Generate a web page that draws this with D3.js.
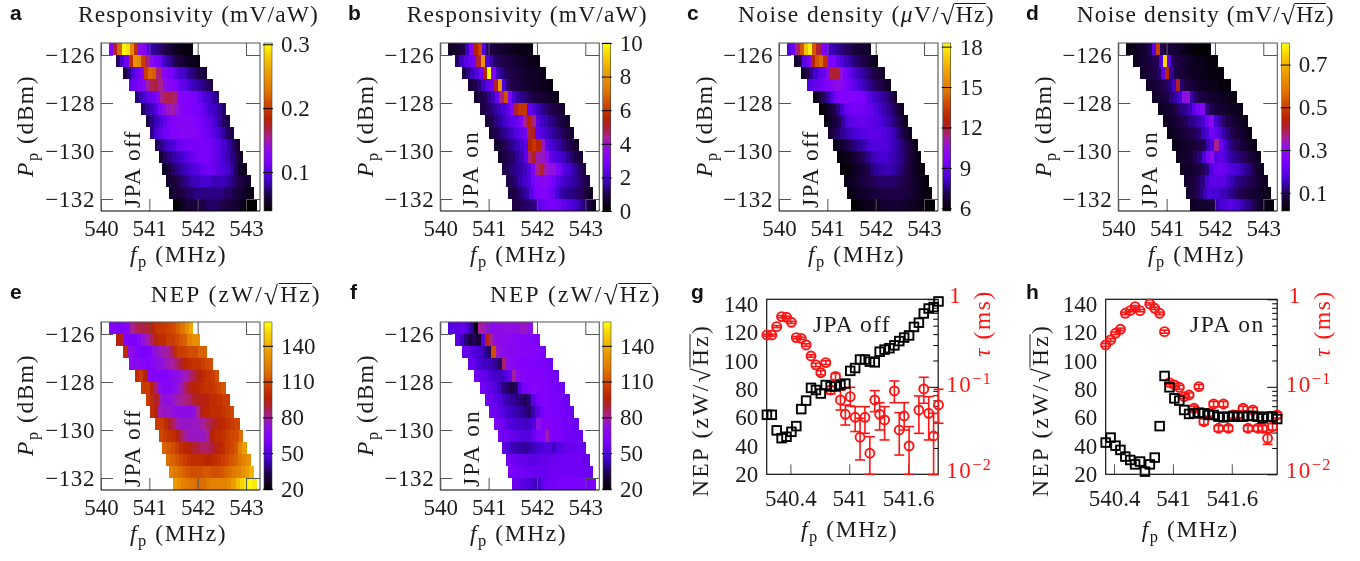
<!DOCTYPE html>
<html><head><meta charset="utf-8">
<script src="https://cdn.jsdelivr.net/npm/d3@7"></script>
<style>html,body{margin:0;padding:0;background:#fff;overflow:hidden}svg{display:block;filter:blur(.35px)}</style>
</head><body><svg id="c" width="1360" height="561"></svg>
<script>
const rowPower=[-125.75,-126.25,-126.75,-127.25,-127.75,-128.25,-128.75,-129.25,-129.75,-130.25,-130.75,-131.25,-131.75,-132.25];
const rowStart=[540.165,540.31,540.45,540.58,540.70,540.83,540.93,541.01,541.12,541.20,541.27,541.35,541.41,541.48];
const rowSpan=1.74;
const respOff=[
[.12,.17,.22,.30,.29,.24,.19,.13,.12,.09,.08,.075,.07,.065,.06,.055,.05,.045,.045,.045],
[.07,.09,.11,.19,.25,.24,.2,.16,.13,.115,.11,.09,.08,.07,.065,.06,.055,.05,.05,.045],
[.065,.075,.095,.11,.125,.2,.22,.215,.16,.13,.12,.115,.105,.09,.09,.08,.075,.07,.065,.06],
[.105,.11,.12,.125,.15,.165,.17,.155,.135,.125,.12,.115,.105,.1,.09,.085,.08,.075,.07,.065],
[.075,.085,.095,.105,.11,.125,.155,.165,.165,.16,.125,.12,.12,.115,.115,.105,.095,.09,.08,.075],
[.07,.08,.085,.095,.115,.13,.145,.15,.14,.125,.12,.12,.115,.115,.11,.1,.09,.085,.08,.07],
[.065,.075,.085,.095,.105,.115,.12,.125,.125,.125,.125,.12,.115,.11,.105,.1,.09,.08,.07,.065],
[.075,.09,.1,.11,.115,.12,.12,.125,.125,.125,.125,.12,.115,.11,.105,.095,.09,.08,.07,.065],
[.07,.075,.085,.09,.095,.105,.11,.115,.115,.115,.115,.115,.115,.11,.105,.1,.09,.08,.07,.06],
[.06,.07,.075,.08,.085,.09,.095,.105,.11,.115,.115,.115,.11,.105,.1,.09,.085,.075,.065,.055],
[.055,.06,.07,.075,.08,.085,.09,.095,.1,.105,.11,.11,.105,.1,.095,.09,.08,.07,.055,.05],
[.055,.06,.065,.07,.075,.08,.085,.085,.09,.09,.09,.085,.085,.085,.08,.075,.07,.065,.06,.055],
[.055,.06,.06,.065,.07,.07,.075,.075,.075,.075,.075,.075,.075,.07,.07,.065,.06,.055,.05,.045],
[.04,.045,.055,.06,.06,.06,.065,.065,.07,.07,.07,.065,.065,.06,.06,.055,.05,.045,.04,.04]];
const respOn=[
[.5,.6,.8,1,1.8,3,5.5,6.2,2.2,1.2,.9,.8,.7,.6,.5,.4,.3,.3,.3,.3],
[1.2,1.8,2.2,2.5,2.8,5,8,2.2,1.6,1.2,1.1,1,.9,.8,.7,.6,.5,.4,.4,.3],
[1,1.3,1.8,2.2,2.8,5.5,10,3,1.8,1.4,1.2,1,.9,.8,.7,.6,.5,.5,.4,.3],
[.8,1,1.3,1.8,2.2,2.7,5,8,2,1.3,1,.9,.8,.7,.6,.5,.5,.4,.4,.3],
[.7,.9,1.1,1.4,1.8,2.6,4.5,6.5,3,2,1.6,1.4,1.2,1,.9,.8,.7,.6,.5,.4],
[.9,1.1,1.3,1.5,1.8,2,2.4,3,5,6,6,2.6,2.2,1.8,1.5,1.3,1.1,1,.8,.7],
[.8,1,1.3,1.5,1.8,2.1,2.4,2.6,3,4.5,5.5,4.5,2.2,1.9,1.7,1.4,1.2,1,.8,.7],
[.8,1,1.2,1.4,1.6,1.8,2.2,2.5,2.7,5,5.2,2.5,2.2,1.9,1.7,1.5,1.3,1.1,.9,.8],
[.7,.9,1.1,1.3,1.5,1.7,2,2.3,5.5,6,5.5,4,2.3,2,1.8,1.6,1.3,1.1,.9,.7],
[.7,.9,1.1,1.2,1.5,1.7,2.4,4.5,5.2,4.2,4,3.5,2.4,2.2,2,1.8,1.5,1.2,1,.8],
[1,1.1,1.3,1.4,1.6,1.8,2.2,3,4.5,5,4.2,3.8,3.8,3,2.3,2,1.8,1.5,1.2,1],
[1,1.1,1.3,1.6,1.9,2.2,2.8,3.2,3.3,3.3,3,2.8,2.3,2,1.8,1.6,1.5,1.3,1.1,1],
[.9,1,1.2,1.4,1.6,2.3,3,3,3.2,3,2.6,2,1.6,1.5,1.4,1.3,1.2,1.1,.9,.5],
[1,1,1.1,1.2,1.3,1.4,2.4,2.6,2.8,2.9,2.8,2.7,2.4,2.2,2,1.8,1.5,1.2,.8,.6]];
const noiseOff=[
[8.5,9,11.5,14,17,18,14,12,9.5,9.2,8,7.8,7.5,7.4,7.2,7,6.8,6.7,6.6,6.6],
[6.5,7,8.8,9.3,12.5,14,14.5,13,9.5,9.5,8.8,8.5,8,7.6,7.4,7.2,7,6.8,6.4,6.3],
[6.5,7,7.6,8.2,8.7,9,10,12,12,10.5,9.5,9,8.5,8,7.8,7.6,7.3,7,6.8,6.5],
[8.5,8.8,9,9.2,9.5,9.7,10,10.2,9.8,9.5,9,8.8,8.3,8,7.7,7.5,7.2,7,6.7,6.4],
[6.2,6.6,7.2,7.7,8.5,9.3,9.6,9.6,9.7,9.6,9.5,9.5,9.3,8.6,8.2,8,7.8,7.5,7.1,6.7],
[6,6.2,6.6,7,7.5,8.2,9,9.3,9.3,9.2,9.2,9.1,8.9,8.5,8.2,7.9,7.6,7.3,6.9,6.5],
[6.1,6.4,6.8,7.2,7.8,8.4,8.7,8.9,8.9,9,8.9,8.8,8.6,8.3,8.1,7.8,7.5,7.2,6.8,6.4],
[6.7,7,7.3,7.6,7.9,8.1,8.3,8.4,8.6,8.7,8.8,8.8,8.7,8.5,8.2,7.9,7.6,7.2,6.8,6.4],
[6.2,6.5,6.8,7,7.3,7.5,7.7,8,8.3,8.4,8.5,8.5,8.4,8.2,8,7.8,7.4,7,6.7,6.3],
[6,6.1,6.3,6.5,6.8,7,7.2,7.6,7.9,8.1,8.2,8.2,8.1,7.9,7.7,7.5,7.2,6.8,6.4,6.1],
[5.9,6,6.2,6.4,6.6,6.8,7,7.4,7.6,7.8,7.9,7.9,7.8,7.6,7.4,7.1,6.8,6.5,6.2,6],
[6.2,6.4,6.5,6.7,6.9,7,7.1,7.2,7.3,7.3,7.3,7.3,7.2,7.1,7,6.8,6.6,6.4,6.2,6],
[6,6.2,6.4,6.5,6.6,6.7,6.8,6.9,7,7,7,7,7,6.9,6.8,6.7,6.5,6.3,6.1,6],
[5.8,5.9,6.1,6.2,6.3,6.4,6.5,6.6,6.7,6.7,6.7,6.7,6.6,6.5,6.4,6.3,6.2,6.1,6,5.9]];
const noiseOn=[
[.03,.04,.05,.06,.07,.1,.2,.5,.1,.08,.08,.07,.06,.05,.04,.03,.02,.02,.02,.02],
[.05,.06,.07,.08,.09,.1,.18,.75,.2,.1,.09,.08,.07,.06,.05,.04,.04,.03,.03,.03],
[.06,.07,.08,.09,.11,.2,.45,.13,.09,.08,.07,.06,.05,.05,.04,.04,.03,.03,.03,.03],
[.06,.07,.08,.09,.1,.12,.16,.42,.11,.09,.08,.07,.06,.05,.05,.04,.04,.03,.03,.03],
[.06,.07,.08,.09,.12,.14,.17,.3,.32,.14,.11,.09,.08,.07,.06,.06,.05,.05,.04,.03],
[.05,.06,.07,.08,.1,.12,.13,.15,.2,.23,.27,.12,.1,.08,.07,.07,.06,.05,.05,.04],
[.05,.06,.07,.08,.09,.1,.12,.13,.15,.17,.23,.28,.17,.14,.11,.09,.07,.06,.05,.04],
[.04,.05,.06,.07,.08,.09,.1,.12,.15,.17,.23,.22,.18,.14,.12,.1,.08,.07,.05,.04],
[.04,.05,.06,.06,.07,.08,.09,.1,.15,.18,.36,.22,.17,.13,.11,.1,.08,.07,.05,.04],
[.05,.06,.07,.08,.1,.12,.17,.24,.3,.2,.2,.18,.15,.13,.12,.11,.1,.08,.07,.05],
[.05,.06,.06,.07,.08,.1,.12,.18,.22,.23,.22,.2,.18,.17,.15,.13,.12,.09,.07,.05],
[.06,.07,.08,.1,.12,.17,.2,.2,.2,.2,.17,.15,.13,.12,.11,.1,.09,.08,.06,.05],
[.07,.08,.1,.12,.15,.18,.17,.17,.15,.15,.13,.11,.1,.09,.08,.07,.07,.06,.05,.04],
[.05,.06,.06,.07,.07,.08,.15,.17,.18,.2,.18,.17,.15,.13,.11,.09,.07,.05,.04,.03]];
const nepOff=[
[62,62,60,62,65,80,85,87,88,92,98,102,103,105,107,110,115,120,130,138],
[95,92,62,60,60,65,73,78,85,95,100,100,105,105,108,112,115,125,130,130],
[100,72,68,62,60,60,62,70,75,78,80,85,100,105,105,108,110,110,115,115],
[68,68,66,64,62,65,68,72,75,78,80,85,90,98,100,102,102,105,108,110],
[100,105,95,66,63,62,62,62,66,70,72,76,78,85,90,95,100,102,105,110],
[105,105,95,85,70,65,65,68,72,78,85,92,95,98,100,102,102,105,108,112],
[105,100,90,75,72,72,75,78,80,82,85,90,92,95,95,100,100,102,105,105],
[100,95,78,75,75,72,70,70,70,70,72,80,92,98,100,100,100,102,105,108],
[105,105,100,90,85,78,75,75,75,76,78,80,85,88,92,98,100,102,105,108],
[108,105,102,100,95,85,80,76,76,75,75,80,95,100,100,102,105,108,110,118],
[115,112,110,105,100,98,95,90,88,85,85,88,92,98,100,105,108,112,125,135],
[118,115,112,108,105,102,100,100,100,98,98,100,102,105,108,112,115,120,125,130],
[125,120,118,115,112,110,110,110,112,112,110,110,112,115,118,122,125,130,135,142],
[135,130,125,122,120,118,118,118,122,125,125,125,125,128,135,145,150,155,158,155]];
const nepOn=[
[50,52,53,55,48,40,22,80,78,72,68,70,70,72,72,70,72,75,75,72],
[52,45,38,32,35,30,50,95,80,72,70,68,68,66,66,64,64,64,62,62],
[55,55,50,48,45,40,35,110,75,70,68,66,66,65,65,65,64,64,62,60],
[55,52,48,45,45,42,40,35,85,70,66,64,62,62,62,62,60,60,60,58],
[58,55,52,50,46,45,45,48,55,80,68,65,63,62,62,62,62,60,60,58],
[58,55,52,50,45,38,36,32,35,50,60,62,64,64,62,62,60,60,58,58],
[58,56,52,50,45,42,40,38,36,34,38,52,60,62,62,60,60,60,58,56],
[58,56,52,50,46,44,42,40,38,36,42,50,58,62,62,60,60,58,58,56],
[60,58,55,50,48,46,46,44,46,50,70,62,64,62,60,60,58,58,58,56],
[60,58,56,54,52,50,50,50,56,60,62,78,62,60,60,60,58,58,56,56],
[52,48,44,42,42,40,42,44,46,48,50,50,45,50,52,55,55,56,56,56],
[58,58,56,54,54,52,52,52,54,54,55,56,56,58,58,58,58,58,56,56],
[60,60,58,58,56,56,56,54,55,56,58,58,58,58,58,58,58,58,56,56],
[55,55,52,50,48,44,46,54,58,58,58,60,60,60,60,60,60,60,60,62]];

const fG=[540.16,540.21,540.26,540.31,540.36,540.41,540.46,540.51,540.56,540.61,540.66,540.71,540.76,540.81,540.86,540.91,540.96,541.01,541.06,541.11,541.16,541.21,541.26,541.31,541.36,541.41,541.46,541.51,541.56,541.61,541.66,541.71,541.76,541.81,541.86,541.91];
const nepG=[62,62,51,45.5,46.5,50,54,66,72,81,79.5,77,83,82,82,83,84,93,95,101,101,99.5,99,106.5,108,109,111,114,116.5,118,124,127,133.5,137,138,142];
const tauG=[.391,.391,.487,.634,.623,.546,.365,.358,.301,.225,.178,.145,.189,.092,.131,.0707,.0485,.0772,.0448,.0265,.0448,.0174,.0707,.0485,.0418,null,.0896,.0321,.0464,.0211,null,.0543,.0945,.0498,.0274,.062];
const tauGLow=[.38,.38,.475,.615,.605,.53,.355,.348,.29,.218,.17,.137,.18,.083,.12,.0543,.0366,.0604,.0308,.0146,.0294,.01,.052,.0321,.0247,null,.0659,.0166,.0321,.01,null,.0294,.0648,.0247,.01,.0383];
const tauGHigh=[.40,.40,.5,.65,.64,.56,.375,.368,.31,.232,.186,.153,.198,.101,.142,.092,.062,.0987,.0593,.0437,.0593,.0269,.0904,.0659,.0593,null,.1166,.0507,.0659,.0351,null,.0786,.1285,.0772,.0498,.0936];
const fH=[540.315,540.365,540.415,540.465,540.515,540.565,540.615,540.665,540.715,540.765,540.815,540.865,540.915,540.965,541.015,541.065,541.115,541.165,541.215,541.265,541.315,541.365,541.415,541.465,541.515,541.565,541.615,541.665,541.715,541.765,541.815,541.865,541.915,541.965,542.015,542.063];
const nepH=[42.4,45.9,40.2,37.2,32.5,30.1,27,29,21.9,27,31.8,54,89.4,81.4,73.6,72,65.4,62.6,63,63.5,63,61.9,61.9,60.7,60.2,60.7,61.2,60.7,60.7,61.2,61.2,60.7,59.5,60.7,60.7,59];
const tauH=[.301,.343,.409,.454,.692,.742,.824,.742,null,.885,.789,.692,.427,.1116,.105,.0987,.0772,.0806,.0568,.1005,.04,.0498,.0636,.0336,.0636,.0336,.0476,.0476,.0568,.0336,.0543,.0336,.0336,.0258,.0351,.0476];
const tauHLow=[.29,.33,.395,.44,.67,.72,.8,.72,null,.86,.765,.67,.41,.106,.1,.094,.073,.076,.053,.095,.037,.046,.059,.031,.059,.031,.044,.044,.053,.031,.05,.031,.031,.022,.032,.044];
const tauHHigh=[.312,.356,.423,.468,.714,.764,.848,.764,null,.91,.813,.714,.444,.117,.11,.104,.081,.085,.06,.106,.043,.054,.068,.036,.068,.036,.051,.051,.06,.036,.058,.036,.036,.03,.038,.051];

const freqTicks=[540,541,542,543];
const powerTicks=[-126,-128,-130,-132];
const scatterFreqTicks=[540.4,541,541.6];
const nepTicks=[20,40,60,80,100,120,140];
const tauMajor=[1,.1,.01];
const tauMinor=[.9,.8,.7,.6,.5,.4,.3,.2,.09,.08,.07,.06,.05,.04,.03,.02];

const cmapPos=[0,.1,.15,.2,.3,.38,.44,.5,.55,.62,.72,.82,.92,1];
const cmapCol=["#000000","#1e0048","#30009a","#4a00d8","#8000ff","#9010e0","#a82090","#b02030","#b82200","#cc4000","#e07800","#ec9c00","#f8cc00","#ffff10"];
const cmap=d3.scaleLinear().domain(cmapPos).range(cmapCol).clamp(true);

const SERIF="'Liberation Serif',serif", INK="#1c1c1c", TEXT=23.5, TICK=23;
const svg=d3.select("#c");

function rich(parent,segs,o){
  const g=parent.append("g").attr("transform",`translate(${o.x},${o.y})${o.rot?" rotate(-90)":""}`);
  const size=o.size||TEXT;
  const t=g.append("text").attr("font-family",SERIF).attr("font-size",size).attr("fill",o.fill||INK);
  let chars=0,sq=-1,shift=0;
  segs.forEach(s=>{
    if(s.root){
      sq=chars;
      t.append("tspan").attr("font-size",size*1.1).attr("dy",2).text("√");
      t.append("tspan").attr("font-size",size).attr("dy",-2).text("Hz");
      chars+=3;
      return;
    }
    const sp=t.append("tspan").text(s.t);
    if(s.i)sp.attr("font-style","italic");
    let want=s.sub?5:s.sup?-8:0;
    if(want!==shift){sp.attr("dy",want-shift);shift=want;}
    if(s.sub||s.sup)sp.attr("font-size",size*.7);
    chars+=s.t.length;
  });
  if(o.width){
    const n=t.node();
    const ls=(o.width-n.getComputedTextLength())/chars;
    t.attr("letter-spacing",ls.toFixed(3));
  }
  if(sq>=0){
    const n=t.node();
    const a=n.getExtentOfChar(sq), b=n.getExtentOfChar(sq+2);
    g.append("line").attr("x1",a.x+a.width-1.5).attr("x2",b.x+b.width).attr("y1",-18).attr("y2",-18)
      .attr("stroke",o.fill||INK).attr("stroke-width",1);
  }
  return g;
}
const fLabel=[{t:"f",i:1},{t:"p",sub:1},{t:" (MHz)"}];
const pLabel=[{t:"P",i:1},{t:"p",sub:1},{t:" (dBm)"}];
const respLabel=[{t:"Responsivity (mV/aW)"}];
const noiseULabel=[{t:"Noise density ("},{t:"μ",i:1},{t:"V/"},{root:1},{t:")"}];
const noiseMLabel=[{t:"Noise density (mV/"},{root:1},{t:")"}];
const nepLabel=[{t:"NEP (zW/"},{root:1},{t:")"}];
const tauLabel=[{t:"τ",i:1},{t:" (ms)"}];

function styleAxis(g,stroke){
  g.select(".domain").remove();
  g.selectAll("line").attr("stroke",stroke).attr("stroke-width",1);
  g.selectAll("text").attr("font-family",SERIF).attr("font-size",TICK).attr("fill",INK);
  return g;
}

const heatPanels=[
 {letter:"a",lx:10,left:101,top:43,values:respOff,dom:[.039,.302],ticks:[.1,.2,.3],fmt:".1f",title:respLabel,tx:78,tw:241,ty:21.5,jpa:"JPA off",jx:140,barX:264,barW:8,ylx:33,xlx:130},
 {letter:"b",lx:348,left:440.3,top:43,values:respOn,dom:[0,10],ticks:[0,2,4,6,8,10],fmt:"d",title:respLabel,tx:406.7,tw:241,ty:21.5,jpa:"JPA on",jx:478,barX:602.7,barW:8,ylx:373,xlx:470},
 {letter:"c",lx:687,left:779,top:43,values:noiseOff,dom:[5.8,18.27],ticks:[6,9,12,15,18],fmt:"d",title:noiseULabel,tx:738,tw:257,ty:21.5,jpa:"JPA off",jx:818,barX:942.7,barW:8,ylx:712,xlx:808},
 {letter:"d",lx:1026,left:1118.3,top:43,values:noiseOn,dom:[.0145,.801],ticks:[.1,.3,.5,.7],fmt:".1f",title:noiseMLabel,tx:1076.7,tw:258,ty:21.5,jpa:"JPA on",jx:1157,barX:1281.7,barW:8,ylx:1051,xlx:1148},
 {letter:"e",lx:10,left:101,top:322,values:nepOff,dom:[19,160],ticks:[20,50,80,110,140],fmt:"d",title:nepLabel,tx:150.7,tw:171,ty:301.5,jpa:"JPA off",jx:140,barX:264,barW:8,ylx:33,xlx:130},
 {letter:"f",lx:350,left:440.3,top:322,values:nepOn,dom:[19,160],ticks:[20,50,80,110,140],fmt:"d",title:nepLabel,tx:490,tw:171.5,ty:301.5,jpa:"JPA on",jx:479,barX:603,barW:8,ylx:373,xlx:470}
];
const PW=159,PH=168;

heatPanels.forEach(p=>{
  const root=svg.append("g").attr("transform",`translate(${p.left},${p.top})`);
  const x=d3.scaleLinear().domain([540,543.29]).range([0,PW]);
  const y=d3.scaleLinear().domain([-125.5,-132.5]).range([0,PH]);
  const col=d3.scaleLinear().domain(p.dom).range([0,1]).clamp(true);
  p.values.forEach((row,ri)=>{
    const w=rowSpan/row.length;
    root.append("g").selectAll("rect").data(row).join("rect")
      .attr("x",(d,i)=>x(rowStart[ri]+i*w))
      .attr("width",(d,i)=>x(rowStart[ri]+(i+1)*w)-x(rowStart[ri]+i*w)+.3)
      .attr("y",y(rowPower[ri]+.25))
      .attr("height",y(rowPower[ri]-.25)-y(rowPower[ri]+.25)+.3)
      .attr("fill",d=>cmap(col(d)))
      .attr("shape-rendering","crispEdges");
  });
  const tick="#555";
  styleAxis(root.append("g").attr("transform",`translate(0,${PH})`).call(
    d3.axisBottom(x).tickValues(freqTicks).tickFormat(d3.format("d")).tickSize(-12).tickPadding(9)),tick);
  styleAxis(root.append("g").call(
    d3.axisTop(x).tickValues(freqTicks).tickFormat("").tickSize(-12)),tick);
  styleAxis(root.append("g").call(
    d3.axisLeft(y).tickValues(powerTicks).tickFormat(d=>"−"+Math.abs(d)).tickSize(-12).tickPadding(6)),tick)
    .selectAll("text").attr("letter-spacing",.6);
  styleAxis(root.append("g").attr("transform",`translate(${PW},0)`).call(
    d3.axisRight(y).tickValues(powerTicks).tickFormat("").tickSize(-14)),tick);
  root.append("path").attr("d",`M0,${PH}V0H${PW}V${PH}`).attr("fill","none").attr("stroke","#555").attr("stroke-width",1.1);
  root.append("line").attr("x1",0).attr("x2",PW).attr("y1",PH).attr("y2",PH).attr("stroke","#000").attr("stroke-width",1.2);

  const bar=svg.append("g").attr("transform",`translate(${p.barX},${p.top})`);
  const cy=d3.scaleLinear().domain(p.dom).range([PH,0]);
  bar.selectAll("rect").data(d3.range(0,PH)).join("rect")
    .attr("x",0).attr("width",p.barW).attr("y",d=>d).attr("height",1.2)
    .attr("fill",d=>cmap(1-(d+.5)/PH)).attr("shape-rendering","crispEdges");
  bar.append("rect").attr("width",p.barW).attr("height",PH).attr("fill","none").attr("stroke","#444").attr("stroke-width",.6);
  styleAxis(bar.append("g").attr("transform","translate(-1,0)").call(
    d3.axisRight(cy).tickValues(p.ticks).tickFormat(d3.format(p.fmt)).tickSize(p.barW+2).tickPadding(8)),"#000");

  svg.append("text").attr("x",p.lx).attr("y",p.top-23).attr("font-family","'Liberation Sans',sans-serif")
    .attr("font-weight","bold").attr("font-size",21).attr("fill","#111").text(p.letter);
  rich(svg,p.title,{x:p.tx,y:p.ty,width:p.tw});
  rich(svg,fLabel,{x:p.xlx,y:p.top+218.7,width:97});
  rich(svg,pLabel,{x:p.ylx,y:p.top+134,width:102,rot:1});
  rich(svg,[{t:p.jpa}],{x:p.jx,y:p.top+165,width:78,rot:1});
});

const scatterPanels=[
 {letter:"g",lx:691,left:766.7,dom:[540.158,541.907],f:fG,nep:nepG,tau:tauG,lo:tauGLow,hi:tauGHigh,ylx:708,tlx:990,rx:948.3,xlx:801,jpa:"JPA off",jpx:813,jpw:78},
 {letter:"h",lx:1026,left:1105.7,dom:[540.315,542.063],f:fH,nep:nepH,tau:tauH,lo:tauHLow,hi:tauHHigh,ylx:1048,tlx:1330,rx:1287.7,xlx:1141.7,jpa:"JPA on",jpx:1190,jpw:75}
];
const SW=171.5,STOP=299.3,SH=175;
scatterPanels.forEach(p=>{
  const root=svg.append("g").attr("transform",`translate(${p.left},${STOP})`);
  const x=d3.scaleLinear().domain(p.dom).range([0,SW]);
  const y=d3.scaleLinear().domain([20,143.5]).range([SH,0]);
  const ty=d3.scaleLog().domain([.01,1]).range([SH,0]);
  styleAxis(root.append("g").attr("transform",`translate(0,${SH})`).call(
    d3.axisBottom(x).tickValues(scatterFreqTicks).tickFormat(d=>String(d)).tickSize(-10).tickPadding(15)),"#555");
  styleAxis(root.append("g").call(
    d3.axisLeft(y).tickValues(nepTicks).tickSize(0).tickPadding(8.5)),"#555");
  styleAxis(root.append("g").attr("transform",`translate(${SW},0)`).call(
    d3.axisRight(ty).tickValues(tauMajor).tickFormat("").tickSize(-10)),"#000");
  styleAxis(root.append("g").attr("transform",`translate(${SW},0)`).call(
    d3.axisRight(ty).tickValues(tauMinor).tickFormat("").tickSize(-5)),"#000");
  root.append("rect").attr("width",SW).attr("height",SH).attr("fill","none").attr("stroke","#111").attr("stroke-width",1.2);

  const red="#ff1414";
  const idx=d3.range(p.f.length).filter(i=>p.tau[i]!==null);
  const er=root.append("g").attr("stroke",red).attr("stroke-width",1.6).attr("fill","none");
  er.selectAll(".v").data(idx).join("line").attr("class","v").attr("x1",i=>x(p.f[i])).attr("x2",i=>x(p.f[i]))
    .attr("y1",i=>ty(p.lo[i])).attr("y2",i=>ty(p.hi[i]));
  er.selectAll(".l").data(idx).join("line").attr("class","l").attr("x1",i=>x(p.f[i])-5).attr("x2",i=>x(p.f[i])+5)
    .attr("y1",i=>ty(p.lo[i])).attr("y2",i=>ty(p.lo[i]));
  er.selectAll(".h").data(idx).join("line").attr("class","h").attr("x1",i=>x(p.f[i])-5).attr("x2",i=>x(p.f[i])+5)
    .attr("y1",i=>ty(p.hi[i])).attr("y2",i=>ty(p.hi[i]));
  root.append("g").selectAll("circle").data(idx).join("circle")
    .attr("cx",i=>x(p.f[i])).attr("cy",i=>ty(p.tau[i])).attr("r",4.5)
    .attr("fill","none").attr("stroke",red).attr("stroke-width",1.9);
  root.append("g").selectAll("rect").data(d3.range(p.f.length)).join("rect")
    .attr("x",i=>x(p.f[i])-4.3).attr("y",i=>y(p.nep[i])-4.3).attr("width",8.6).attr("height",8.6)
    .attr("fill","none").attr("stroke","#000").attr("stroke-width",1.9);

  rich(svg,[{t:"1"}],{x:p.rx+1,y:STOP+4,fill:red,size:TICK});
  rich(svg,[{t:"10"},{t:"−1",sup:1}],{x:p.rx-2,y:STOP+ty(.1)+5,fill:red,size:TICK,width:46});
  rich(svg,[{t:"10"},{t:"−2",sup:1}],{x:p.rx-2,y:STOP+ty(.01)+4,fill:red,size:TICK,width:46});

  svg.append("text").attr("x",p.lx).attr("y",299).attr("font-family","'Liberation Sans',sans-serif")
    .attr("font-weight","bold").attr("font-size",21).attr("fill","#111").text(p.letter);
  rich(svg,nepLabel,{x:p.ylx,y:497,width:173,rot:1});
  rich(svg,tauLabel,{x:p.tlx,y:357,width:67,rot:1,fill:red});
  rich(svg,fLabel,{x:p.xlx,y:536.7,width:97});
  rich(svg,[{t:p.jpa}],{x:p.jpx,y:331.7,width:p.jpw});
});
</script></body></html>
